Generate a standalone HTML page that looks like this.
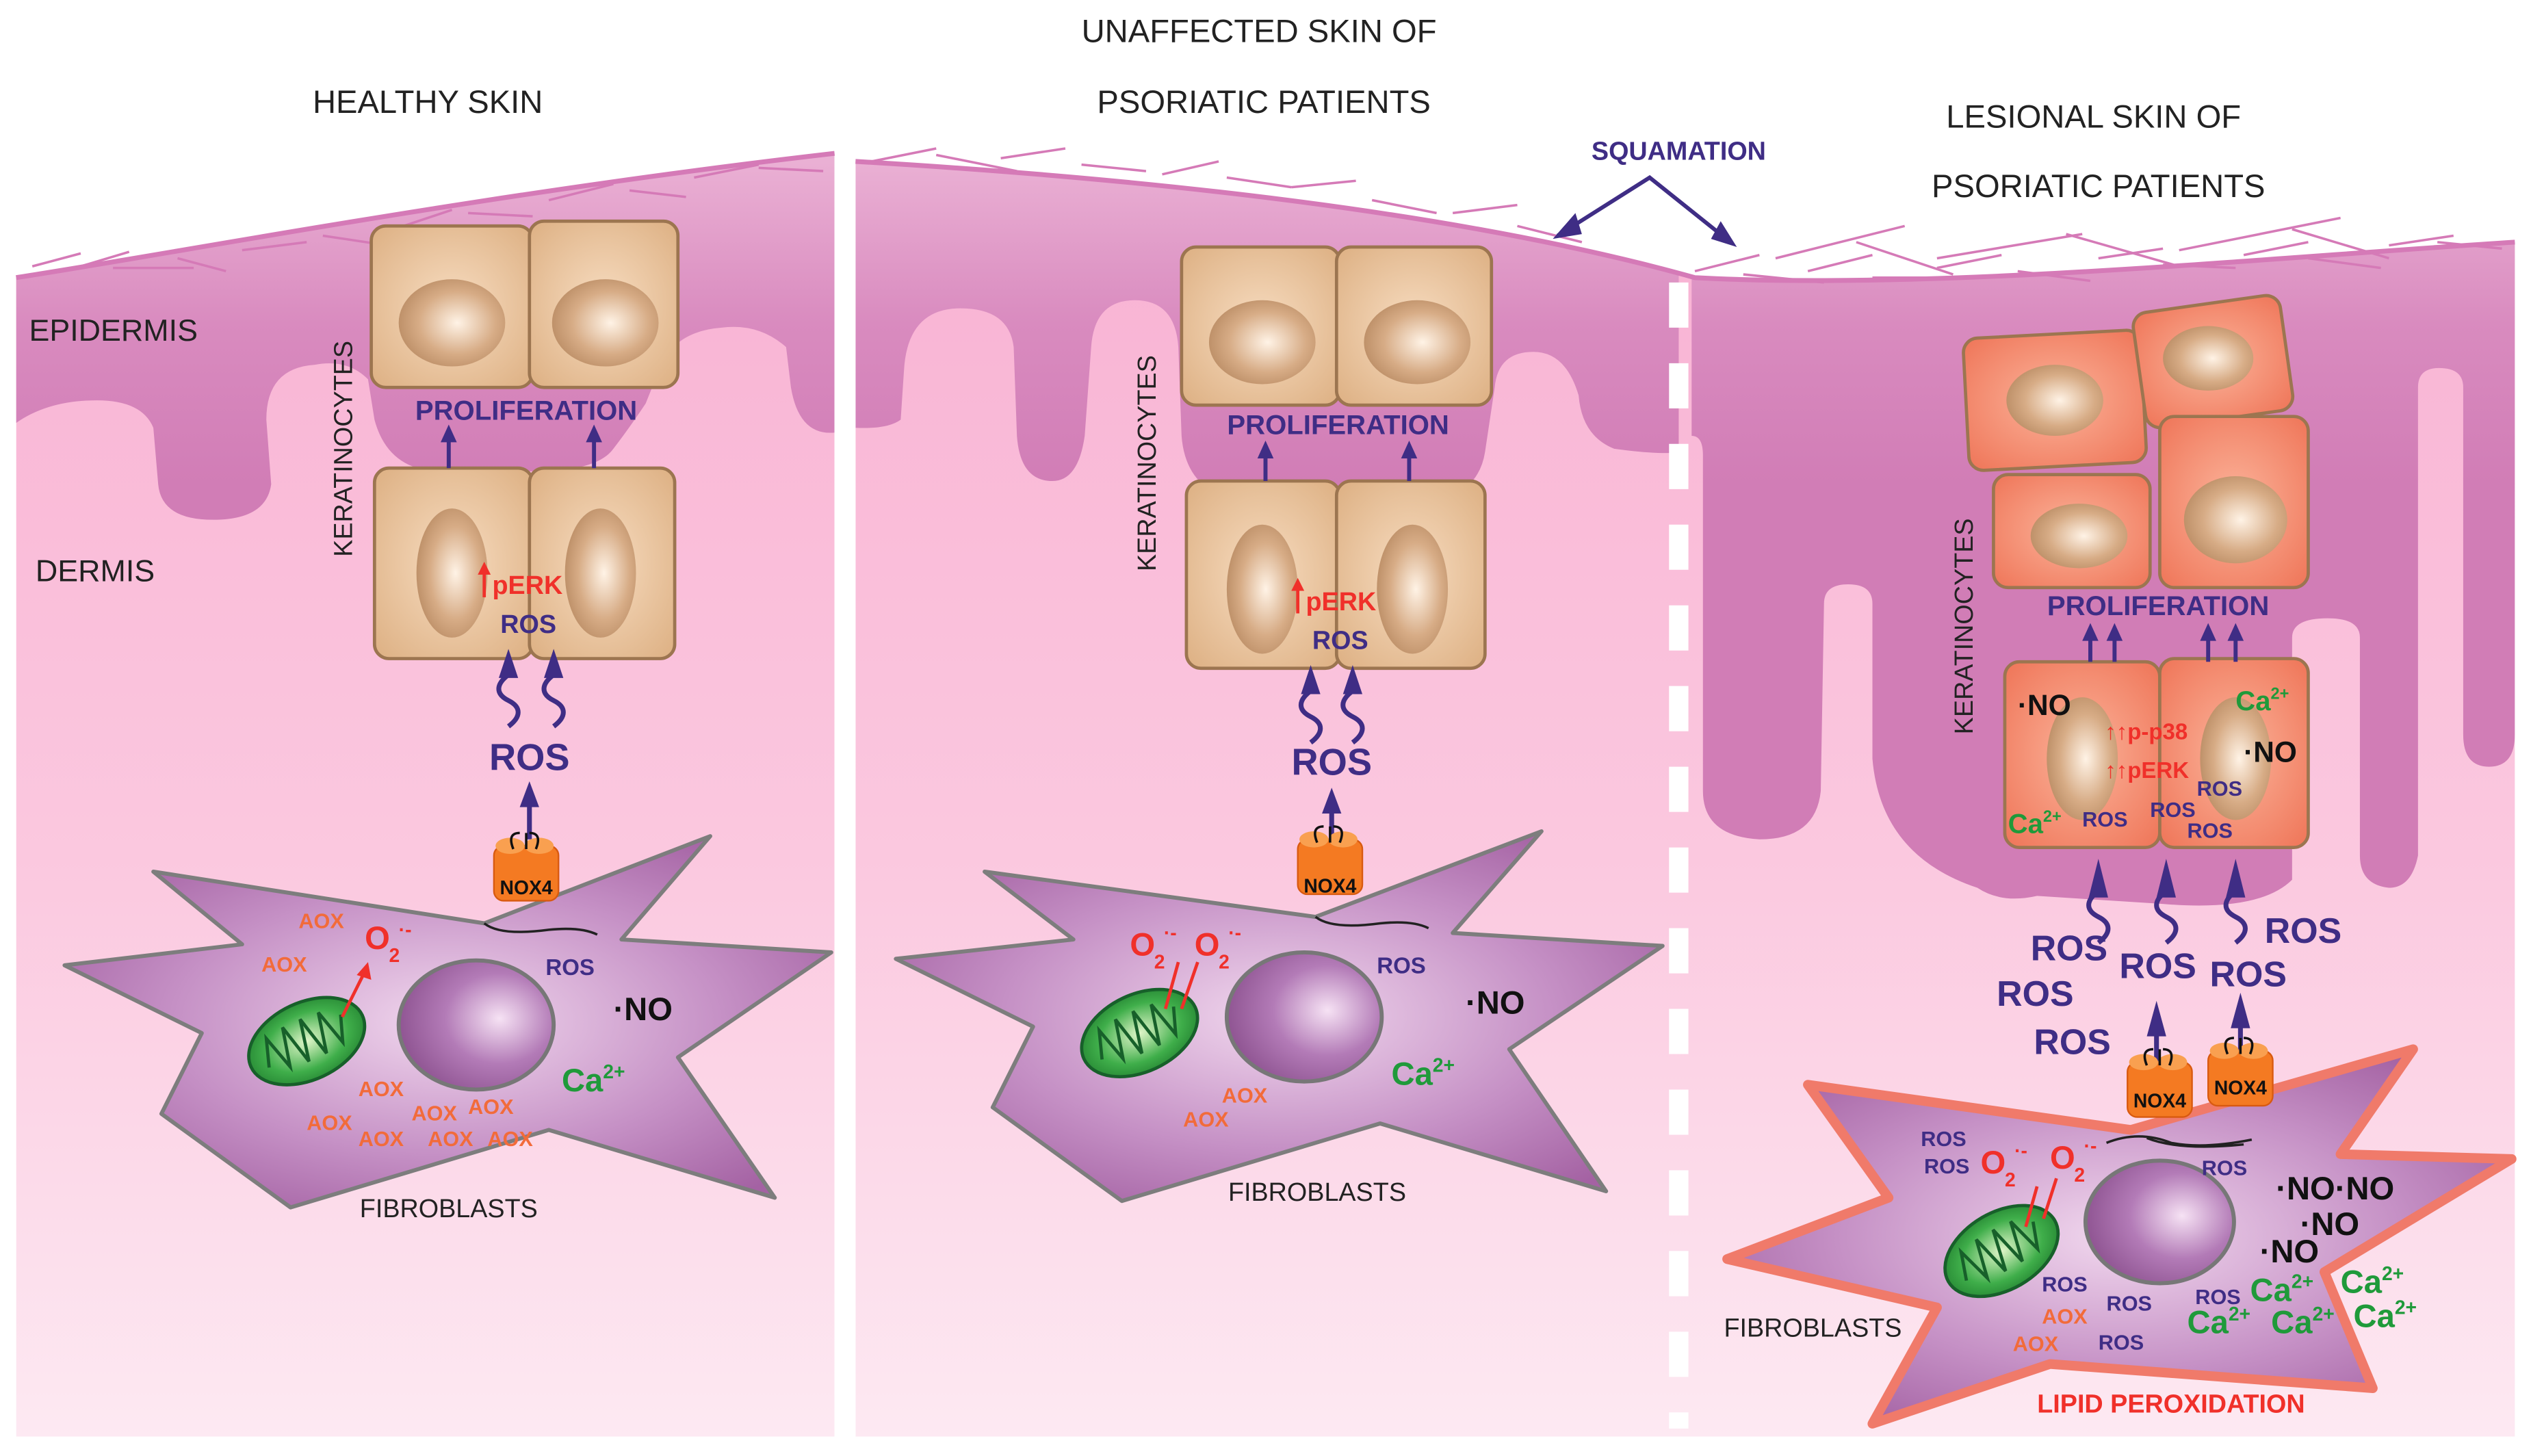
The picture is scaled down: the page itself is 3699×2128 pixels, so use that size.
<!DOCTYPE html>
<html><head><meta charset="utf-8"><style>
html,body{margin:0;padding:0;background:#fff;}
svg{display:block;}
text{font-family:"Liberation Sans",Arial,sans-serif;}
.nv{fill:#3f2d85;font-weight:bold;}
.rd{fill:#f0302a;font-weight:bold;}
.gr{fill:#1f9a3a;font-weight:bold;}
.ao{fill:#f26b3a;font-weight:bold;}
.bk{fill:#111;}
</style></head><body>
<svg width="3699" height="2128" viewBox="0 0 1568 902" preserveAspectRatio="none" xmlns="http://www.w3.org/2000/svg">
<defs>
<linearGradient id="derm" x1="0" y1="0" x2="0" y2="1">
<stop offset="0" stop-color="#f8b0d2"/><stop offset="0.55" stop-color="#fbc8df"/><stop offset="1" stop-color="#fde9f2"/></linearGradient>
<linearGradient id="epi" gradientUnits="userSpaceOnUse" x1="0" y1="100" x2="0" y2="300">
<stop offset="0" stop-color="#eab0d4"/><stop offset="0.5" stop-color="#d98bbf"/><stop offset="1" stop-color="#d17db6"/></linearGradient>
<radialGradient id="tan" cx="0.5" cy="0.5" r="0.7"><stop offset="0" stop-color="#f7dcc0"/><stop offset="1" stop-color="#ddb083"/></radialGradient>
<radialGradient id="red" cx="0.5" cy="0.5" r="0.7"><stop offset="0" stop-color="#fbb39a"/><stop offset="1" stop-color="#ef7558"/></radialGradient>
<radialGradient id="nuc" cx="0.55" cy="0.5" r="0.6"><stop offset="0" stop-color="#fff3e6"/><stop offset="0.6" stop-color="#d7ac86"/><stop offset="1" stop-color="#b88a62"/></radialGradient>
<radialGradient id="fib" cx="0.5" cy="0.5" r="0.6"><stop offset="0" stop-color="#f1d8ee"/><stop offset="0.6" stop-color="#c590c5"/><stop offset="1" stop-color="#a462a3"/></radialGradient>
<radialGradient id="fnuc" cx="0.65" cy="0.45" r="0.7"><stop offset="0" stop-color="#f6e2f4"/><stop offset="0.5" stop-color="#b37bb7"/><stop offset="1" stop-color="#8a4f8d"/></radialGradient>
<radialGradient id="mito" cx="0.5" cy="0.5" r="0.6"><stop offset="0" stop-color="#dff5c8"/><stop offset="0.6" stop-color="#3fae4a"/><stop offset="1" stop-color="#1e7a2c"/></radialGradient>
<g id="mit">
<ellipse cx="0" cy="0" rx="38" ry="24" fill="url(#mito)" stroke="#17602a" stroke-width="2"/>
<path d="M-28,5 L-22,-12 L-16,10 L-10,-14 L-4,12 L2,-14 L8,12 L14,-13 L20,10 L26,-6" fill="none" stroke="#17602a" stroke-width="2"/>
</g>
<g id="nox">
<rect x="-20" y="-14" width="40" height="34" rx="6" fill="#f47a22" stroke="#d85a10"/>
<ellipse cx="-10" cy="-14" rx="9" ry="5" fill="#f9a050"/><ellipse cx="8" cy="-14" rx="9" ry="5" fill="#f9a050"/>
<path d="M-8,-12 q-4,-10 4,-10 M6,-12 q4,-10 -4,-10 M0,-22 l0,10" fill="none" stroke="#111" stroke-width="1.5"/>
</g>
<path id="sq" d="M0,0 c-8,6 -8,12 0,16 c8,4 8,10 0,16" fill="none" stroke="#3f2d85" stroke-width="3"/>
</defs>

<rect width="1568" height="902" fill="#fff"/>

<!-- ===== PANEL 1 ===== -->
<clipPath id="c1"><path d="M10,172 C120,155 300,120 517,95 L517,890 L10,890 Z"/></clipPath>
<g clip-path="url(#c1)">
<rect x="10" y="90" width="507" height="800" fill="url(#derm)"/>
<path d="M10,90 L517,90 L517,268 Q495,270 490,240 L487,215 Q470,200 447,203 Q420,205 410,225 L400,250 Q390,265 380,278 Q370,292 330,292 L270,292 Q240,290 232,260 L228,235 Q215,222 195,226 Q165,228 165,260 L168,300 Q165,322 132,322 Q100,322 98,300 L95,265 Q88,248 60,248 Q30,248 10,262 Z" fill="url(#epi)"/>
</g>
<path d="M10,172 C120,155 300,120 517,95" fill="none" stroke="#d57ab7" stroke-width="3"/>
<path d="M20,165 l30,-8 M40,168 l40,-12 M70,166 l50,0 M110,160 l30,8 M150,155 l40,-5 M200,146 l40,6 M250,140 l30,-10 M290,132 l40,2 M340,124 l40,-10 M390,118 l35,4 M430,110 l40,-8 M470,104 l40,2" stroke="#d57ab7" stroke-width="1.5"/>
<text x="265" y="70" font-size="20" text-anchor="middle" fill="#222">HEALTHY SKIN</text>
<text x="18" y="211" font-size="19" fill="#222">EPIDERMIS</text>
<text x="22" y="360" font-size="19" fill="#222">DERMIS</text>
<text transform="translate(218,278) rotate(-90)" font-size="16" text-anchor="middle" fill="#222">KERATINOCYTES</text>
<rect x="230" y="140" width="100" height="100" rx="9" fill="url(#tan)" stroke="#9c7550" stroke-width="2"/>
<rect x="328" y="137" width="92" height="103" rx="9" fill="url(#tan)" stroke="#9c7550" stroke-width="2"/>
<ellipse cx="280" cy="200" rx="33" ry="27" fill="url(#nuc)"/><ellipse cx="375" cy="200" rx="33" ry="27" fill="url(#nuc)"/>
<rect x="232" y="290" width="98" height="118" rx="9" fill="url(#tan)" stroke="#9c7550" stroke-width="2"/>
<rect x="328" y="290" width="90" height="118" rx="9" fill="url(#tan)" stroke="#9c7550" stroke-width="2"/>
<ellipse cx="280" cy="355" rx="22" ry="40" fill="url(#nuc)"/><ellipse cx="372" cy="355" rx="22" ry="40" fill="url(#nuc)"/>
<text x="326" y="260" font-size="17" text-anchor="middle" class="nv">PROLIFERATION</text>
<path d="M278,290 L278,272 M368,290 L368,272" stroke="#3f2d85" stroke-width="2.5"/>
<path d="M273,274 L278,263 L283,274 Z M363,274 L368,263 L373,274 Z" fill="#3f2d85"/>
<path d="M300,370 L300,354" stroke="#f0302a" stroke-width="2"/><path d="M296,356 L300,348 L304,356Z" fill="#f0302a"/>
<text x="305" y="368" font-size="16" class="rd">pERK</text>
<text x="310" y="392" font-size="16" class="nv">ROS</text>
<use href="#sq" x="315" y="418"/><use href="#sq" x="343" y="418"/>
<path d="M309,420 L315,402 L321,420Z M337,420 L343,402 L349,420Z" fill="#3f2d85"/>
<text x="328" y="477" font-size="23" text-anchor="middle" class="nv">ROS</text>
<path d="M328,520 L328,498" stroke="#3f2d85" stroke-width="3"/><path d="M322,500 L328,484 L334,500Z" fill="#3f2d85"/>
<path d="M95,540 L300,572 L440,518 L385,582 L515,590 L420,655 L480,742 L340,700 L180,748 L100,690 L125,640 L40,598 L150,585 Z" fill="url(#fib)" stroke="#7d7d7d" stroke-width="2.5" stroke-linejoin="round"/>
<use href="#nox" x="326" y="538"/>
<text x="326" y="554" font-size="12" text-anchor="middle" font-weight="bold" fill="#111">NOX4</text>
<path d="M300,572 q10,8 40,4 q20,-2 30,3" fill="none" stroke="#222" stroke-width="1.5"/>
<ellipse cx="295" cy="635" rx="48" ry="40" fill="url(#fnuc)" stroke="#777" stroke-width="2.5"/>
<use href="#mit" transform="translate(190,645) rotate(-25)"/>
<path d="M212,630 L226,602" stroke="#f0302a" stroke-width="2"/><path d="M221,604 L228,596 L230,607Z" fill="#f0302a"/>
<text x="226" y="588" font-size="20" class="rd" font-weight="normal">O</text><text x="241" y="596" font-size="12" class="rd">2</text><text x="247" y="580" font-size="12" class="rd">·-</text>
<text x="185" y="575" font-size="13" class="ao">AOX</text><text x="162" y="602" font-size="13" class="ao">AOX</text>
<text x="222" y="679" font-size="13" class="ao">AOX</text>
<text x="190" y="700" font-size="13" class="ao">AOX</text><text x="222" y="710" font-size="13" class="ao">AOX</text>
<text x="255" y="694" font-size="13" class="ao">AOX</text><text x="290" y="690" font-size="13" class="ao">AOX</text>
<text x="265" y="710" font-size="13" class="ao">AOX</text><text x="302" y="710" font-size="13" class="ao">AOX</text>
<text x="338" y="604" font-size="14" class="nv">ROS</text>
<text x="380" y="632" font-size="20" class="bk" font-weight="bold">·NO</text>
<text x="348" y="676" font-size="20" class="gr">Ca<tspan font-size="12" dy="-8">2+</tspan></text>
<text x="278" y="754" font-size="16" text-anchor="middle" fill="#222">FIBROBLASTS</text>

<!-- ===== PANELS 2+3 background ===== -->
<clipPath id="c2"><path d="M530,100 C700,110 900,130 1050,172 C1200,180 1400,160 1558,150 L1558,890 L530,890 Z"/></clipPath>
<g clip-path="url(#c2)">
<rect x="530" y="90" width="1030" height="800" fill="url(#derm)"/>
<path d="M530,90 L1040,90 L1040,280 Q1030,282 1000,278 Q980,270 978,245 Q970,218 950,218 Q928,218 926,240 L920,280 Q915,312 870,314 L780,312 Q735,310 732,270 L730,215 Q728,186 703,186 Q678,186 676,215 L672,270 Q668,298 652,298 Q632,298 630,270 L628,215 Q625,191 595,191 Q562,191 560,230 L558,260 Q550,266 530,265 Z" fill="url(#epi)"/>
<path d="M1048,150 L1558,150 L1558,455 Q1558,475 1542,475 Q1526,475 1526,455 L1526,240 Q1526,228 1511,228 Q1498,228 1498,240 L1498,530 Q1494,550 1480,550 Q1462,548 1462,530 L1462,395 Q1462,383 1442,383 Q1420,383 1420,395 L1420,545 Q1400,565 1340,560 L1262,555 Q1240,560 1225,550 Q1165,530 1160,470 L1160,374 Q1160,362 1145,362 Q1130,362 1130,374 L1128,490 Q1125,520 1090,520 Q1055,518 1055,490 L1055,282 Q1055,270 1048,270 Z" fill="url(#epi)"/>
</g>
<path d="M530,100 C700,110 900,130 1050,172 C1200,180 1400,160 1558,150" fill="none" stroke="#d57ab7" stroke-width="3"/>
<path d="M540,100 l40,-8 M580,96 l50,10 M620,98 l40,-6 M670,102 l40,4 M720,108 l35,-8 M760,110 l40,6 M800,116 l40,-4 M850,124 l40,8 M900,132 l40,-5 M940,140 l40,10 M1050,168 l40,-10 M1080,170 l50,5 M1120,168 l40,-10 M1160,172 l50,0 M1200,166 l40,-8 M1250,168 l45,6 M1300,160 l40,-6 M1340,164 l45,2 M1390,158 l40,-8 M1430,160 l45,6 M1480,152 l40,-6 M1510,150 l40,4 M1100,160 l80,-20 M1200,160 l90,-15 M1350,155 l100,-20 M1150,150 l60,20 M1280,145 l70,20 M1420,142 l60,18" stroke="#d57ab7" stroke-width="1.5"/>
<line x1="1040" y1="175" x2="1040" y2="885" stroke="#fff" stroke-width="12" stroke-dasharray="28,22"/>
<text x="780" y="26" font-size="20" text-anchor="middle" fill="#222">UNAFFECTED SKIN OF</text>
<text x="783" y="70" font-size="20" text-anchor="middle" fill="#222">PSORIATIC PATIENTS</text>
<text x="1297" y="79" font-size="20" text-anchor="middle" fill="#222">LESIONAL SKIN OF</text>
<text x="1300" y="122" font-size="20" text-anchor="middle" fill="#222">PSORIATIC PATIENTS</text>
<text x="1040" y="99" font-size="16" text-anchor="middle" class="nv">SQUAMATION</text>
<path d="M965,146 L1022,110 L1072,150" fill="none" stroke="#3f2d85" stroke-width="2.5"/>
<path d="M962,148 L976,132 L980,145Z M1076,153 L1060,148 L1066,137Z" fill="#3f2d85"/>

<!-- ===== PANEL 2 content ===== -->
<text transform="translate(716,287) rotate(-90)" font-size="16" text-anchor="middle" fill="#222">KERATINOCYTES</text>
<rect x="732" y="153" width="98" height="98" rx="9" fill="url(#tan)" stroke="#9c7550" stroke-width="2"/>
<rect x="828" y="153" width="96" height="98" rx="9" fill="url(#tan)" stroke="#9c7550" stroke-width="2"/>
<ellipse cx="782" cy="212" rx="33" ry="26" fill="url(#nuc)"/><ellipse cx="878" cy="212" rx="33" ry="26" fill="url(#nuc)"/>
<rect x="735" y="298" width="95" height="116" rx="9" fill="url(#tan)" stroke="#9c7550" stroke-width="2"/>
<rect x="828" y="298" width="92" height="116" rx="9" fill="url(#tan)" stroke="#9c7550" stroke-width="2"/>
<ellipse cx="782" cy="365" rx="22" ry="40" fill="url(#nuc)"/><ellipse cx="875" cy="365" rx="22" ry="40" fill="url(#nuc)"/>
<text x="829" y="269" font-size="17" text-anchor="middle" class="nv">PROLIFERATION</text>
<path d="M784,298 L784,282 M873,298 L873,282" stroke="#3f2d85" stroke-width="2.5"/>
<path d="M779,284 L784,273 L789,284 Z M868,284 L873,273 L878,284 Z" fill="#3f2d85"/>
<path d="M804,380 L804,364" stroke="#f0302a" stroke-width="2"/><path d="M800,366 L804,358 L808,366Z" fill="#f0302a"/>
<text x="809" y="378" font-size="16" class="rd">pERK</text>
<text x="813" y="402" font-size="16" class="nv">ROS</text>
<use href="#sq" x="812" y="428"/><use href="#sq" x="838" y="428"/>
<path d="M806,430 L812,412 L818,430Z M832,430 L838,412 L844,430Z" fill="#3f2d85"/>
<text x="825" y="480" font-size="23" text-anchor="middle" class="nv">ROS</text>
<path d="M825,520 L825,502" stroke="#3f2d85" stroke-width="3"/><path d="M819,504 L825,488 L831,504Z" fill="#3f2d85"/>
<path d="M610,540 L815,568 L955,515 L900,578 L1030,586 L935,650 L995,738 L855,696 L695,744 L615,686 L640,636 L555,594 L665,582 Z" fill="url(#fib)" stroke="#7d7d7d" stroke-width="2.5" stroke-linejoin="round"/>
<use href="#nox" x="824" y="534"/>
<text x="824" y="553" font-size="12" text-anchor="middle" font-weight="bold" fill="#111">NOX4</text>
<path d="M815,568 q10,8 40,4 q20,-2 30,3" fill="none" stroke="#222" stroke-width="1.5"/>
<ellipse cx="808" cy="630" rx="48" ry="40" fill="url(#fnuc)" stroke="#777" stroke-width="2.5"/>
<use href="#mit" transform="translate(706,640) rotate(-25)"/>
<path d="M722,625 L730,596 M732,625 L742,596" stroke="#f0302a" stroke-width="2"/>
<text x="700" y="592" font-size="20" class="rd" font-weight="normal">O</text><text x="715" y="600" font-size="12" class="rd">2</text><text x="721" y="582" font-size="12" class="rd">·-</text>
<text x="740" y="592" font-size="20" class="rd" font-weight="normal">O</text><text x="755" y="600" font-size="12" class="rd">2</text><text x="761" y="582" font-size="12" class="rd">·-</text>
<text x="757" y="683" font-size="13" class="ao">AOX</text><text x="733" y="698" font-size="13" class="ao">AOX</text>
<text x="853" y="603" font-size="14" class="nv">ROS</text>
<text x="908" y="628" font-size="20" class="bk" font-weight="bold">·NO</text>
<text x="862" y="672" font-size="20" class="gr">Ca<tspan font-size="12" dy="-8">2+</tspan></text>
<text x="816" y="744" font-size="16" text-anchor="middle" fill="#222">FIBROBLASTS</text>

<!-- ===== PANEL 3 content ===== -->
<text transform="translate(1222,388) rotate(-90)" font-size="16" text-anchor="middle" fill="#222">KERATINOCYTES</text>
<g stroke="#9c7550" stroke-width="2" fill="url(#red)">
<rect x="1218" y="207" width="110" height="82" rx="9" transform="rotate(-3 1273 248)"/>
<rect x="1325" y="188" width="92" height="72" rx="9" transform="rotate(-8 1371 224)"/>
<rect x="1235" y="294" width="97" height="70" rx="9"/>
<rect x="1338" y="258" width="92" height="106" rx="9"/>
<rect x="1242" y="410" width="96" height="115" rx="9"/>
<rect x="1338" y="408" width="92" height="117" rx="9"/>
</g>
<ellipse cx="1273" cy="248" rx="30" ry="22" fill="url(#nuc)"/>
<ellipse cx="1368" cy="222" rx="28" ry="20" fill="url(#nuc)"/>
<ellipse cx="1288" cy="332" rx="30" ry="20" fill="url(#nuc)"/>
<ellipse cx="1385" cy="322" rx="32" ry="27" fill="url(#nuc)"/>
<ellipse cx="1290" cy="470" rx="22" ry="38" fill="url(#nuc)"/>
<ellipse cx="1385" cy="470" rx="22" ry="38" fill="url(#nuc)"/>
<text x="1337" y="381" font-size="17" text-anchor="middle" class="nv">PROLIFERATION</text>
<path d="M1295,410 L1295,395 M1310,410 L1310,395 M1368,410 L1368,395 M1385,410 L1385,395" stroke="#3f2d85" stroke-width="2.5"/>
<path d="M1290,397 L1295,386 L1300,397Z M1305,397 L1310,386 L1315,397Z M1363,397 L1368,386 L1373,397Z M1380,397 L1385,386 L1390,397Z" fill="#3f2d85"/>
<text x="1250" y="443" font-size="18" class="bk" font-weight="bold">·NO</text>
<text x="1385" y="440" font-size="17" class="gr">Ca<tspan font-size="10" dy="-7">2+</tspan></text>
<text x="1390" y="472" font-size="18" class="bk" font-weight="bold">·NO</text>
<text x="1304" y="458" font-size="14" class="rd">↑↑p-p38</text>
<text x="1304" y="482" font-size="14" class="rd">↑↑pERK</text>
<text x="1244" y="516" font-size="17" class="gr">Ca<tspan font-size="10" dy="-7">2+</tspan></text>
<text x="1290" y="512" font-size="13" class="nv">ROS</text>
<text x="1332" y="506" font-size="13" class="nv">ROS</text>
<text x="1361" y="493" font-size="13" class="nv">ROS</text>
<text x="1355" y="519" font-size="13" class="nv">ROS</text>
<use href="#sq" x="1300" y="552"/><use href="#sq" x="1342" y="552"/><use href="#sq" x="1385" y="552"/>
<path d="M1294,556 L1300,532 L1306,556Z M1336,556 L1342,532 L1348,556Z M1379,556 L1385,532 L1391,556Z" fill="#3f2d85"/>
<text x="1258" y="595" font-size="22" class="nv">ROS</text>
<text x="1313" y="606" font-size="22" class="nv">ROS</text>
<text x="1369" y="611" font-size="22" class="nv">ROS</text>
<text x="1403" y="584" font-size="22" class="nv">ROS</text>
<text x="1237" y="623" font-size="22" class="nv">ROS</text>
<text x="1260" y="653" font-size="22" class="nv">ROS</text>
<path d="M1336,660 L1336,640 M1388,655 L1388,635" stroke="#3f2d85" stroke-width="3"/>
<path d="M1330,642 L1336,620 L1342,642Z M1382,637 L1388,615 L1394,637Z" fill="#3f2d85"/>
<path d="M1120,672 L1320,700 L1495,650 L1450,715 L1556,718 L1440,788 L1470,860 L1270,845 L1160,882 L1200,810 L1070,780 L1170,742 Z" fill="url(#fib)" stroke="#f07a6a" stroke-width="6" stroke-linejoin="round"/>
<use href="#nox" x="1338" y="672"/>
<text x="1338" y="686" font-size="12" text-anchor="middle" font-weight="bold" fill="#111">NOX4</text>
<use href="#nox" x="1388" y="665"/>
<text x="1388" y="678" font-size="12" text-anchor="middle" font-weight="bold" fill="#111">NOX4</text>
<path d="M1305,708 q20,-8 40,0 q20,4 50,-2 M1330,705 q20,8 60,4" fill="none" stroke="#222" stroke-width="1.5"/>
<ellipse cx="1338" cy="757" rx="46" ry="38" fill="url(#fnuc)" stroke="#777" stroke-width="2.5"/>
<use href="#mit" transform="translate(1240,775) rotate(-30)"/>
<path d="M1255,760 L1262,735 M1266,755 L1274,730" stroke="#f0302a" stroke-width="2"/>
<text x="1227" y="727" font-size="20" class="rd" font-weight="normal">O</text><text x="1242" y="735" font-size="12" class="rd">2</text><text x="1248" y="717" font-size="12" class="rd">·-</text>
<text x="1270" y="724" font-size="20" class="rd" font-weight="normal">O</text><text x="1285" y="732" font-size="12" class="rd">2</text><text x="1291" y="714" font-size="12" class="rd">·-</text>
<text x="1190" y="710" font-size="13" class="nv">ROS</text><text x="1192" y="727" font-size="13" class="nv">ROS</text>
<text x="1364" y="728" font-size="13" class="nv">ROS</text>
<text x="1410" y="743" font-size="20" class="bk" font-weight="bold">·NO·NO</text>
<text x="1425" y="765" font-size="20" class="bk" font-weight="bold">·NO</text>
<text x="1400" y="782" font-size="20" class="bk" font-weight="bold">·NO</text>
<text x="1265" y="800" font-size="13" class="nv">ROS</text>
<text x="1305" y="812" font-size="13" class="nv">ROS</text>
<text x="1300" y="836" font-size="13" class="nv">ROS</text>
<text x="1360" y="808" font-size="13" class="nv">ROS</text>
<text x="1265" y="820" font-size="13" class="ao">AOX</text><text x="1247" y="837" font-size="13" class="ao">AOX</text>
<text x="1394" y="806" font-size="20" class="gr">Ca<tspan font-size="12" dy="-8">2+</tspan></text>
<text x="1450" y="801" font-size="20" class="gr">Ca<tspan font-size="12" dy="-8">2+</tspan></text>
<text x="1355" y="826" font-size="20" class="gr">Ca<tspan font-size="12" dy="-8">2+</tspan></text>
<text x="1407" y="826" font-size="20" class="gr">Ca<tspan font-size="12" dy="-8">2+</tspan></text>
<text x="1458" y="822" font-size="20" class="gr">Ca<tspan font-size="12" dy="-8">2+</tspan></text>
<text x="1068" y="828" font-size="16" fill="#222">FIBROBLASTS</text>
<text x="1345" y="875" font-size="16" text-anchor="middle" fill="#f0302a" font-weight="bold">LIPID PEROXIDATION</text>
</svg>
</body></html>
